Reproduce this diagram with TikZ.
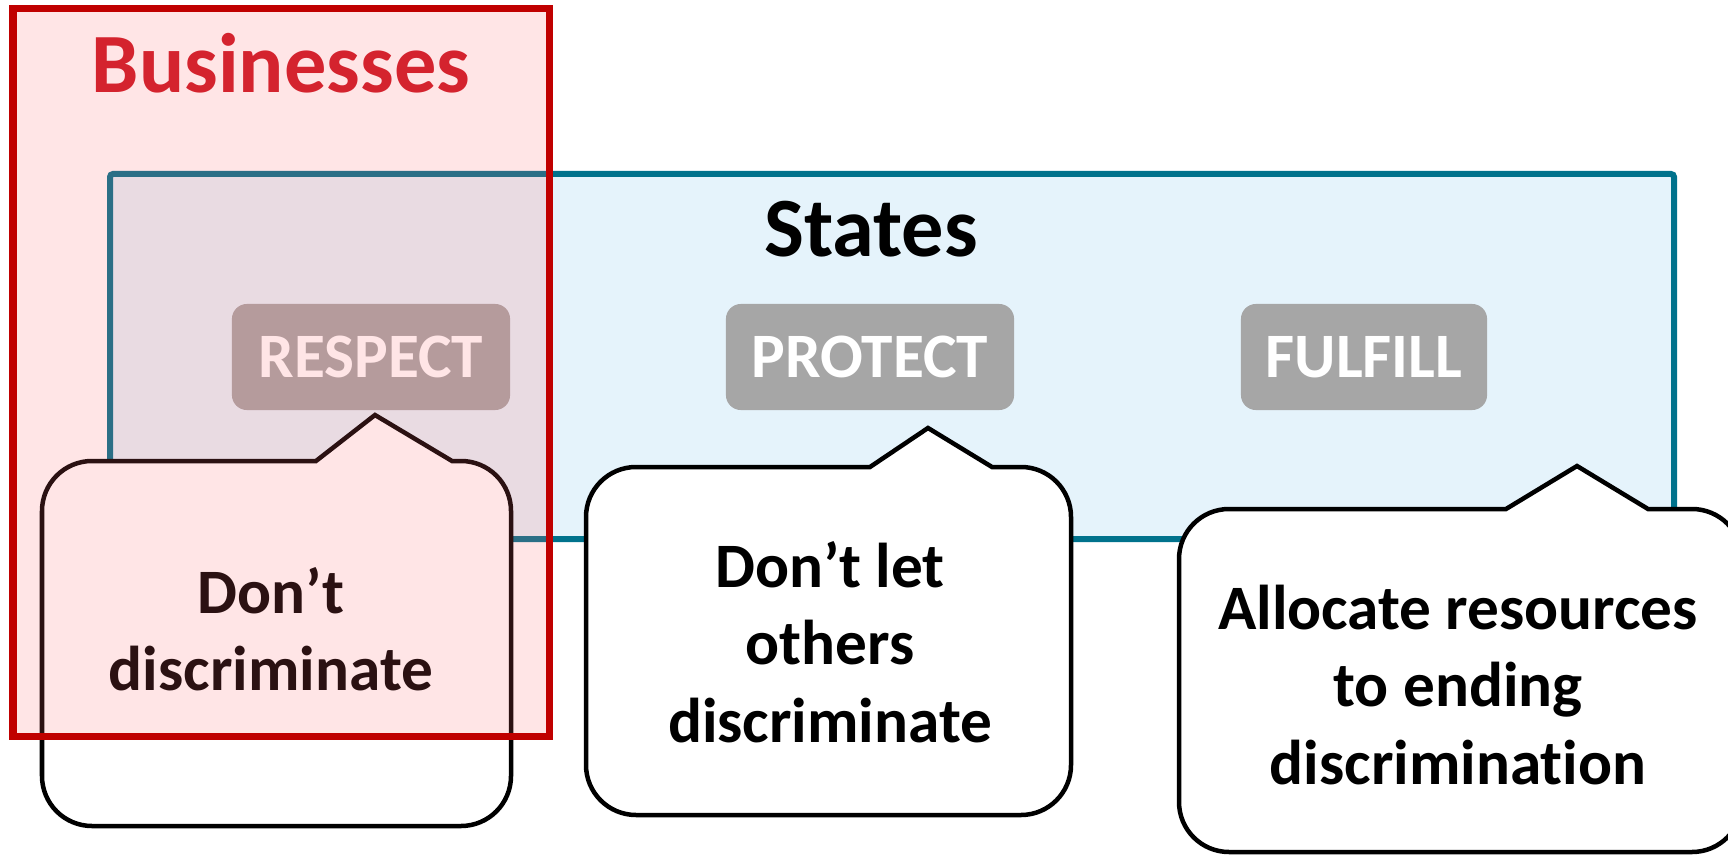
\documentclass[tikz,border=0pt]{standalone}
\usepackage{fontspec}
\setmainfont{Carlito}[Ligatures=NoCommon]
\usepackage{tikz}
\usetikzlibrary{positioning}
\definecolor{bizred}{RGB}{192,0,0}
\definecolor{biztext}{RGB}{212,35,46}
\definecolor{bizfill}{RGB}{255,102,108}
\definecolor{stateteal}{RGB}{0,114,140}
\definecolor{statefill}{RGB}{229,243,251}
\definecolor{badgegray}{RGB}{166,166,166}
% speech bubble: left, top, right, bottom, tip x, tip y, pointer left, pointer right
\newcommand{\bubble}[8]{%
  \draw[bubbleline] (#7,#2) -- (#5,#6) -- (#8,#2) -- ({#3-50},#2)
    arc[start angle=90, end angle=0, radius=50] -- (#3,{#4+50})
    arc[start angle=0, end angle=-90, radius=50] -- ({#1+50},#4)
    arc[start angle=270, end angle=180, radius=50] -- (#1,{#2-50})
    arc[start angle=180, end angle=90, radius=50] -- cycle;}

\begin{document}
\begin{tikzpicture}[x=0.01cm, y=0.01cm,
  badge/.style={fill=badgegray, rounded corners=0.15cm, minimum height=1.06cm,
    text=white, font=\fontsize{18}{22}\selectfont\bfseries},
  bubbleline/.style={draw=black, fill=white, line width=0.045cm, line join=miter},
  say/.style={align=center, font=\fontsize{18}{22}\selectfont\bfseries},
  title/.style={font=\fontsize{24}{29}\selectfont\bfseries}
]
  \useasboundingbox (0,0) rectangle (1728,-855);
  \clip (0,0) rectangle (1728,-855);

  % States
  \draw[fill=statefill, draw=stateteal, line width=0.06cm, rounded corners=0.03cm]
    (110,-174) rectangle (1674,-539);
  \node[title] (states) at (871,-229) {States};

  % Obligations
  \node[badge, minimum width=2.78cm] (respect) at (371,-357) {RESPECT};
  \node[badge, minimum width=2.88cm] (protect) at (870,-357) {PROTECT};
  \node[badge, minimum width=2.46cm] (fulfill) at (1364,-357) {FULFILL};

  % Bubbles
  \bubble{42}{-461}{511}{-826}{375}{-415}{316}{452}
  \node[say] (dont) at (271,-629) {Don’t\\discriminate};
  \bubble{586}{-467}{1071}{-815}{928}{-428}{870}{992}
  \node[say] (others) at (830,-642) {Don’t let\\others\\discriminate};
  \bubble{1179}{-509}{1742}{-852}{1577}{-466}{1506}{1648}
  \node[say] (allocate) at (1458,-685) {Allocate resources\\to ending\\discrimination};

  % Businesses
  \fill[bizfill, opacity=0.17] (13,-9) rectangle (549,-736);
  \draw[bizred, line width=0.07cm] (13,-9) rectangle (549,-736);
  \node[title, text=biztext] (biz) at (281,-63) {Businesses};
\end{tikzpicture}
\end{document}
